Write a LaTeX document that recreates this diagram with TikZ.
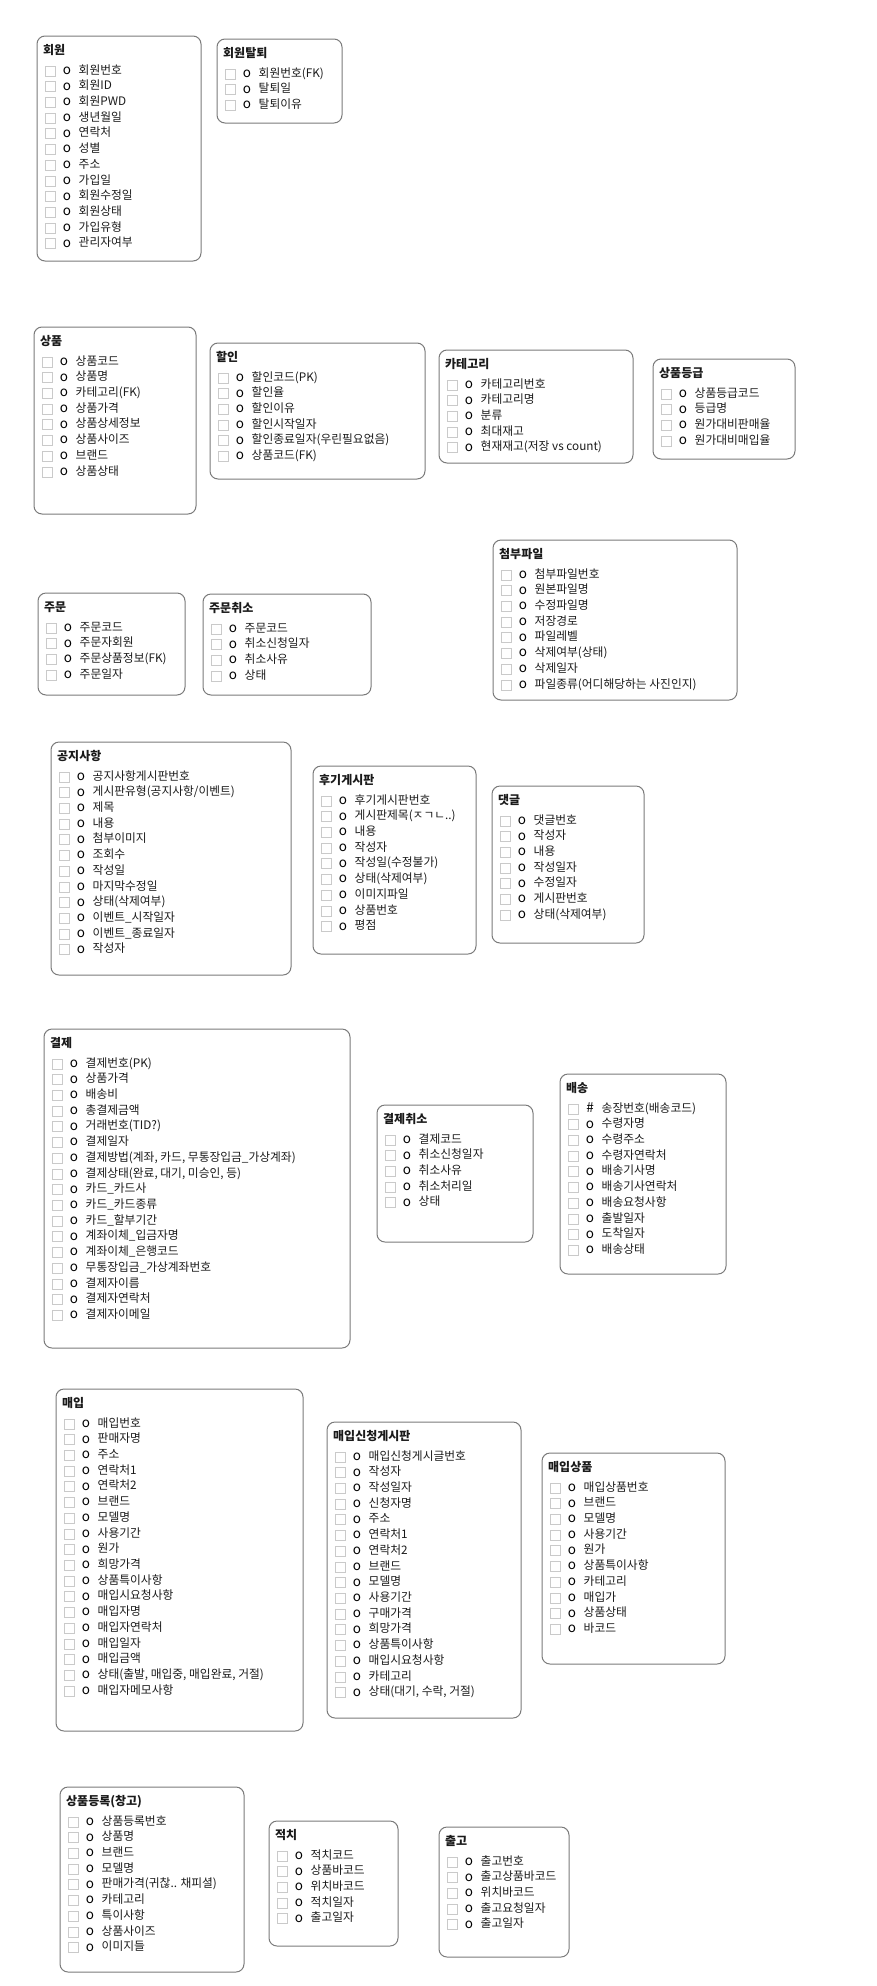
\documentclass[tikz,border=0pt]{standalone}
\usepackage{fontspec}
\setmainfont{Noto Sans CJK KR}
\usetikzlibrary{calc,fit}
\definecolor{boxgray}{HTML}{7A7A7A}
\definecolor{chkgray}{HTML}{CACACA}
\definecolor{txt}{HTML}{1A1A1A}
\tikzset{
 entity/.style={draw=boxgray, line width=1pt, rounded corners=8pt, inner sep=0pt},
 enttitle/.style={anchor=base west, inner sep=0pt, font=\fontsize{12}{14}\selectfont\bfseries, text=txt},
 rowtext/.style={anchor=base west, inner sep=0pt, font=\fontsize{11.75}{14}\selectfont, text=txt},
 chk/.style={draw=chkgray, line width=0.9pt, minimum size=10pt, inner sep=0pt},
 rowmark/.style={anchor=base, inner sep=0pt, font=\fontsize{13.5}{14}\selectfont, text=black},
}
\newcommand\entbox[8]{%
 \coordinate (#1-nw) at (#2,#3);
 \coordinate (#1-se) at (#4,#5);
 \node[entity, fit=(#1-nw)(#1-se)] (#1) {};
 \node[enttitle] (#1-t) at ($(#1-nw)+(6,18)$) {#6};
 \foreach \r [count=\i] in {#7} {
   \pgfmathsetmacro\yy{33.5+(\i-1)*15.72}
   \node[chk] (#1-c\i) at ($(#1-nw)+(13,\yy+1.5)$) {};
   \node[rowmark] (#1-o\i) at ($(#1-nw)+(30,\yy+4.8)$) {\ifnum\i=1 #8\else o\fi};
   \node[rowtext] (#1-r\i) at ($(#1-nw)+(41.5,\yy+4.5)$) {\r};
 }
}
\begin{document}
\begin{tikzpicture}[x=1pt,y=-1pt]
\useasboundingbox (0,0) rectangle (877,1986);
\entbox{member}{37}{36}{201}{261}{회원}{회원번호,회원ID,회원PWD,생년월일,연락처,성별,주소,가입일,회원수정일,회원상태,가입유형,관리자여부}{o}
\entbox{withdraw}{217}{39}{342}{123}{회원탈퇴}{회원번호(FK),탈퇴일,탈퇴이유}{o}
\entbox{product}{34}{327}{196}{514}{상품}{상품코드,상품명,카테고리(FK),상품가격,상품상세정보,상품사이즈,브랜드,상품상태}{o}
\entbox{discount}{210}{343}{425}{479}{할인}{할인코드(PK),할인율,할인이유,할인시작일자,할인종료일자(우린필요없음),상품코드(FK)}{o}
\entbox{category}{439}{350}{633}{463}{카테고리}{카테고리번호,카테고리명,분류,최대재고,현재재고(저장 vs count)}{o}
\entbox{grade}{653}{359}{795}{459}{상품등급}{상품등급코드,등급명,원가대비판매율,원가대비매입율}{o}
\entbox{attach}{493}{540}{737}{700}{첨부파일}{첨부파일번호,원본파일명,수정파일명,저장경로,파일레벨,삭제여부(상태),삭제일자,파일종류(어디해당하는 사진인지)}{o}
\entbox{order}{38}{593}{185}{695}{주문}{주문코드,주문자회원,주문상품정보(FK),주문일자}{o}
\entbox{ordercancel}{203}{594}{371}{695}{주문취소}{주문코드,취소신청일자,취소사유,상태}{o}
\entbox{notice}{51}{742}{291}{975}{공지사항}{공지사항게시판번호,게시판유형(공지사항/이벤트),제목,내용,첨부이미지,조회수,작성일,마지막수정일,상태(삭제여부),이벤트\_시작일자,이벤트\_종료일자,작성자}{o}
\entbox{review}{313}{766}{476}{954}{후기게시판}{후기게시판번호,게시판제목(ㅈㄱㄴ..),내용,작성자,작성일(수정불가),상태(삭제여부),이미지파일,상품번호,평점}{o}
\entbox{comment}{492}{786}{644}{943}{댓글}{댓글번호,작성자,내용,작성일자,수정일자,게시판번호,상태(삭제여부)}{o}
\entbox{payment}{44}{1029}{350}{1348}{결제}{결제번호(PK),상품가격,배송비,총결제금액,거래번호(TID?),결제일자,{결제방법(계좌, 카드, 무통장입금\_가상계좌)},{결제상태(완료, 대기, 미승인, 등)},카드\_카드사,카드\_카드종류,카드\_할부기간,계좌이체\_입금자명,계좌이체\_은행코드,무통장입금\_가상계좌번호,결제자이름,결제자연락처,결제자이메일}{o}
\entbox{paycancel}{377}{1105}{533}{1242}{결제취소}{결제코드,취소신청일자,취소사유,취소처리일,상태}{o}
\entbox{delivery}{560}{1074}{726}{1274}{배송}{송장번호(배송코드),수령자명,수령주소,수령자연락처,배송기사명,배송기사연락처,배송요청사항,출발일자,도착일자,배송상태}{\#}
\entbox{purchase}{56}{1389}{303}{1731}{매입}{매입번호,판매자명,주소,연락처1,연락처2,브랜드,모델명,사용기간,원가,희망가격,상품특이사항,매입시요청사항,매입자명,매입자연락처,매입일자,매입금액,{상태(출발, 매입중, 매입완료, 거절)},매입자메모사항}{o}
\entbox{purchasereq}{327}{1422}{521}{1718}{매입신청게시판}{매입신청게시글번호,작성자,작성일자,신청자명,주소,연락처1,연락처2,브랜드,모델명,사용기간,구매가격,희망가격,상품특이사항,매입시요청사항,카테고리,{상태(대기, 수락, 거절)}}{o}
\entbox{purchaseitem}{542}{1453}{725}{1664}{매입상품}{매입상품번호,브랜드,모델명,사용기간,원가,상품특이사항,카테고리,매입가,상품상태,바코드}{o}
\entbox{register}{60}{1787}{244}{1972}{상품등록(창고)}{상품등록번호,상품명,브랜드,모델명,판매가격(귀찮.. 채피셜),카테고리,특이사항,상품사이즈,이미지들}{o}
\entbox{stock}{269}{1821}{398}{1946}{적치}{적치코드,상품바코드,위치바코드,적치일자,출고일자}{o}
\entbox{release}{439}{1827}{569}{1957}{출고}{출고번호,출고상품바코드,위치바코드,출고요청일자,출고일자}{o}
\end{tikzpicture}
\end{document}
